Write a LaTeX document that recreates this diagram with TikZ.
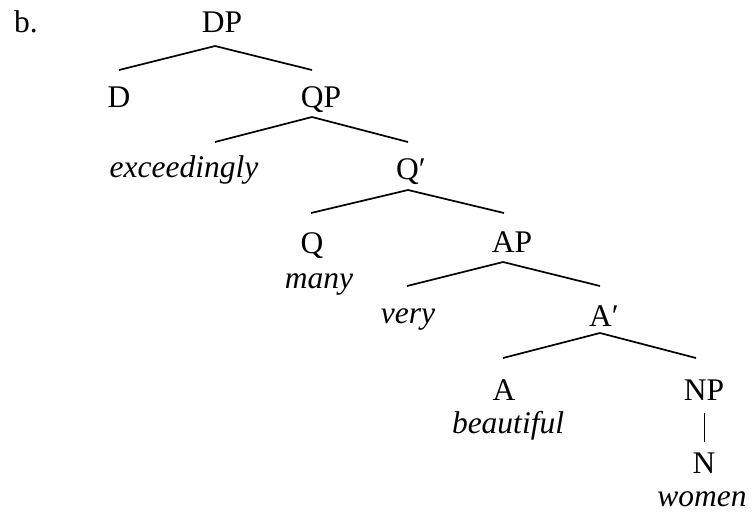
\documentclass[tikz,border=0pt]{standalone}
\usepackage{fontspec}
\setmainfont{Liberation Serif}
\begin{document}
\begin{tikzpicture}[x=1pt,y=-1pt,
  lab/.style={anchor=base,inner sep=0pt,font=\fontsize{31.5}{34}\selectfont},
  word/.style={anchor=base,inner sep=0pt,font=\fontsize{31.5}{34}\selectfont\itshape},
  branch/.style={line width=1.7pt},
  vbar/.style={line width=0.9pt}]
\useasboundingbox (0,0) rectangle (752,512);
% labels
\node[lab,anchor=base west] (ex) at (14,32) {b.};
\node[lab] (DP) at (222,32) {DP};
\node[lab] (D) at (119,107) {D};
\node[lab] (QP) at (321,107) {QP};
\node[word] (exc) at (184,177) {exceedingly};
\node[lab] (Qbar) at (411,179) {Q′};
\node[lab] (Q) at (312,253) {Q};
\node[word] (many) at (319,288) {many};
\node[lab] (AP) at (512,252) {AP};
\node[word] (very) at (408,323) {very};
\node[lab] (Abar) at (604,326) {A′};
\node[lab] (A) at (504,400) {A};
\node[word] (beau) at (508,433) {beautiful};
\node[lab] (NP) at (704,400) {NP};
\node[lab] (N) at (704,473) {N};
\node[word] (women) at (702,506) {women};
% branch points
\coordinate (DPa) at (215,46);  \coordinate (Dt) at (119,70);  \coordinate (QPt) at (312,70);
\coordinate (QPa) at (312,117); \coordinate (exct) at (215,142); \coordinate (Qbart) at (408,142);
\coordinate (Qbara) at (408,190); \coordinate (Qt) at (311,213); \coordinate (APt) at (504,213);
\coordinate (APa) at (503,262); \coordinate (veryt) at (407,286); \coordinate (Abart) at (600,286);
\coordinate (Abara) at (600,333); \coordinate (At) at (503,358); \coordinate (NPt) at (696,358);
\coordinate (NPb) at (704,413); \coordinate (Nt) at (704,442);
% connectors
\draw[branch] (Dt) -- (DPa) -- (QPt);
\draw[branch] (exct) -- (QPa) -- (Qbart);
\draw[branch] (Qt) -- (Qbara) -- (APt);
\draw[branch] (veryt) -- (APa) -- (Abart);
\draw[branch] (At) -- (Abara) -- (NPt);
\draw[vbar] (NPb) -- (Nt);
\end{tikzpicture}
\end{document}
